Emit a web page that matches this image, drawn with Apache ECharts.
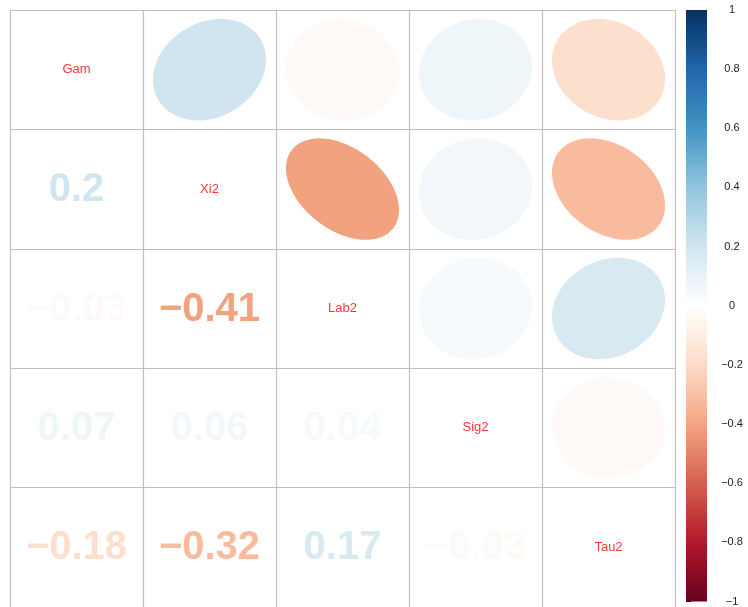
<!DOCTYPE html>
<html>
<head>
<meta charset="utf-8">
<script src="https://cdn.jsdelivr.net/npm/echarts@6/dist/echarts.min.js"></script>
<style>
html,body{margin:0;padding:0;background:#fff;}
#main{width:748px;height:607px;}
</style>
</head>
<body>
<div id="main"></div>
<script>
// variables (diagonal labels)
var vars = ['Gam', 'Xi2', 'Lab2', 'Sig2', 'Tau2'];
// correlation matrix, row by row
var corr = [
    [1, 0.2, -0.03, 0.07, -0.18],
    [0.2, 1, -0.41, 0.06, -0.32],
    [-0.03, -0.41, 1, 0.04, 0.17],
    [0.07, 0.06, 0.04, 1, -0.03],
    [-0.18, -0.32, 0.17, -0.03, 1]
];
// RdBu palette of corrplot
var palette = ['#67001F', '#B2182B', '#D6604D', '#F4A582', '#FDDBC7', '#FFFFFF',
               '#D1E5F0', '#92C5DE', '#4393C3', '#2166AC', '#053061'];

var ellData = [], numData = [], diagData = [];
for (var i = 0; i < vars.length; i++) {
    for (var j = 0; j < vars.length; j++) {
        if (j > i) ellData.push([corr[i][j], j, i]);
        else if (j < i) numData.push([corr[i][j], j, i]);
        else diagData.push([j + 0.5, i + 0.5, vars[i]]);
    }
}

function fmt(v) {
    return String(v).replace('-', '\u2212');
}

var chart = echarts.init(document.getElementById('main'));
var stops = palette.map(function (c, k) {
    return {offset: 1 - k / (palette.length - 1), color: c};
});

var option = {
    animation: false,
    backgroundColor: '#fff',
    grid: [
        {left: 10, top: 10, width: 665, height: 598},
        {left: 686, top: 10, width: 21, height: 598}
    ],
    xAxis: [
        {gridIndex: 0, type: 'value', min: 0, max: 5, interval: 1,
         axisLine: {show: false}, axisTick: {show: false}, axisLabel: {show: false},
         splitLine: {show: true, lineStyle: {color: '#c0c0c0', width: 1.2}}},
        {gridIndex: 1, type: 'value', min: 0, max: 1, show: false}
    ],
    yAxis: [
        {gridIndex: 0, type: 'value', min: 0, max: 5, interval: 1, inverse: true,
         axisLine: {show: false}, axisTick: {show: false}, axisLabel: {show: false},
         splitLine: {show: true, lineStyle: {color: '#c0c0c0', width: 1.2}}},
        {gridIndex: 1, type: 'value', min: -1, max: 1, interval: 0.2, position: 'right',
         axisLine: {show: false},
         axisTick: {show: true, length: 5, lineStyle: {color: '#000', width: 1}},
         axisLabel: {margin: 25, align: 'center', fontSize: 11, color: '#222',
                     fontFamily: 'Liberation Sans',
                     formatter: function (v) { return fmt(+v.toFixed(1)); }},
         splitLine: {show: false}}
    ],
    visualMap: {
        show: false, type: 'continuous', min: -1, max: 1, dimension: 0,
        seriesIndex: [0, 1], inRange: {color: palette}
    },
    series: [
        {   // ellipses in upper triangle
            type: 'custom', xAxisIndex: 0, yAxisIndex: 0,
            data: ellData,
            renderItem: function (params, api) {
                var r = api.value(0);
                var c = api.coord([api.value(1) + 0.5, api.value(2) + 0.5]);
                var s = api.size([1, 1]);
                var a = Math.acos(r);
                var pts = [];
                for (var k = 0; k < 100; k++) {
                    var t = k / 99 * 2 * Math.PI;
                    pts.push([c[0] + 0.85 * Math.cos(t + a / 2) / 2 * s[0],
                              c[1] - 0.85 * Math.cos(t - a / 2) / 2 * s[1]]);
                }
                return {type: 'polygon', shape: {points: pts},
                        style: {fill: api.visual('color')}};
            }
        },
        {   // coefficients in lower triangle
            type: 'custom', xAxisIndex: 0, yAxisIndex: 0,
            data: numData,
            renderItem: function (params, api) {
                var c = api.coord([api.value(1) + 0.5, api.value(2) + 0.5]);
                return {type: 'text', x: c[0], y: c[1] + 1,
                        style: {text: fmt(api.value(0)), fill: api.visual('color'),
                                font: 'bold 40px "Liberation Sans", Arial, sans-serif',
                                align: 'center', verticalAlign: 'middle'}};
            }
        },
        {   // diagonal names
            type: 'scatter', xAxisIndex: 0, yAxisIndex: 0,
            data: diagData, symbolSize: 0,
            label: {show: true, position: 'inside', color: '#ff0000', fontSize: 13,
                    fontFamily: 'Liberation Sans',
                    formatter: function (p) { return p.value[2]; }}
        },
        {   // colour legend bar
            type: 'custom', xAxisIndex: 1, yAxisIndex: 1,
            data: [[0, 1, 1, -1]],
            renderItem: function (params, api) {
                var p1 = api.coord([api.value(0), api.value(1)]);
                var p2 = api.coord([api.value(2), api.value(3)]);
                return {type: 'rect',
                        shape: {x: p1[0], y: p1[1], width: p2[0] - p1[0], height: p2[1] - p1[1]},
                        style: {fill: new echarts.graphic.LinearGradient(0, 0, 0, 1, stops)}};
            }
        }
    ]
};
chart.setOption(option);
</script>
</body>
</html>
